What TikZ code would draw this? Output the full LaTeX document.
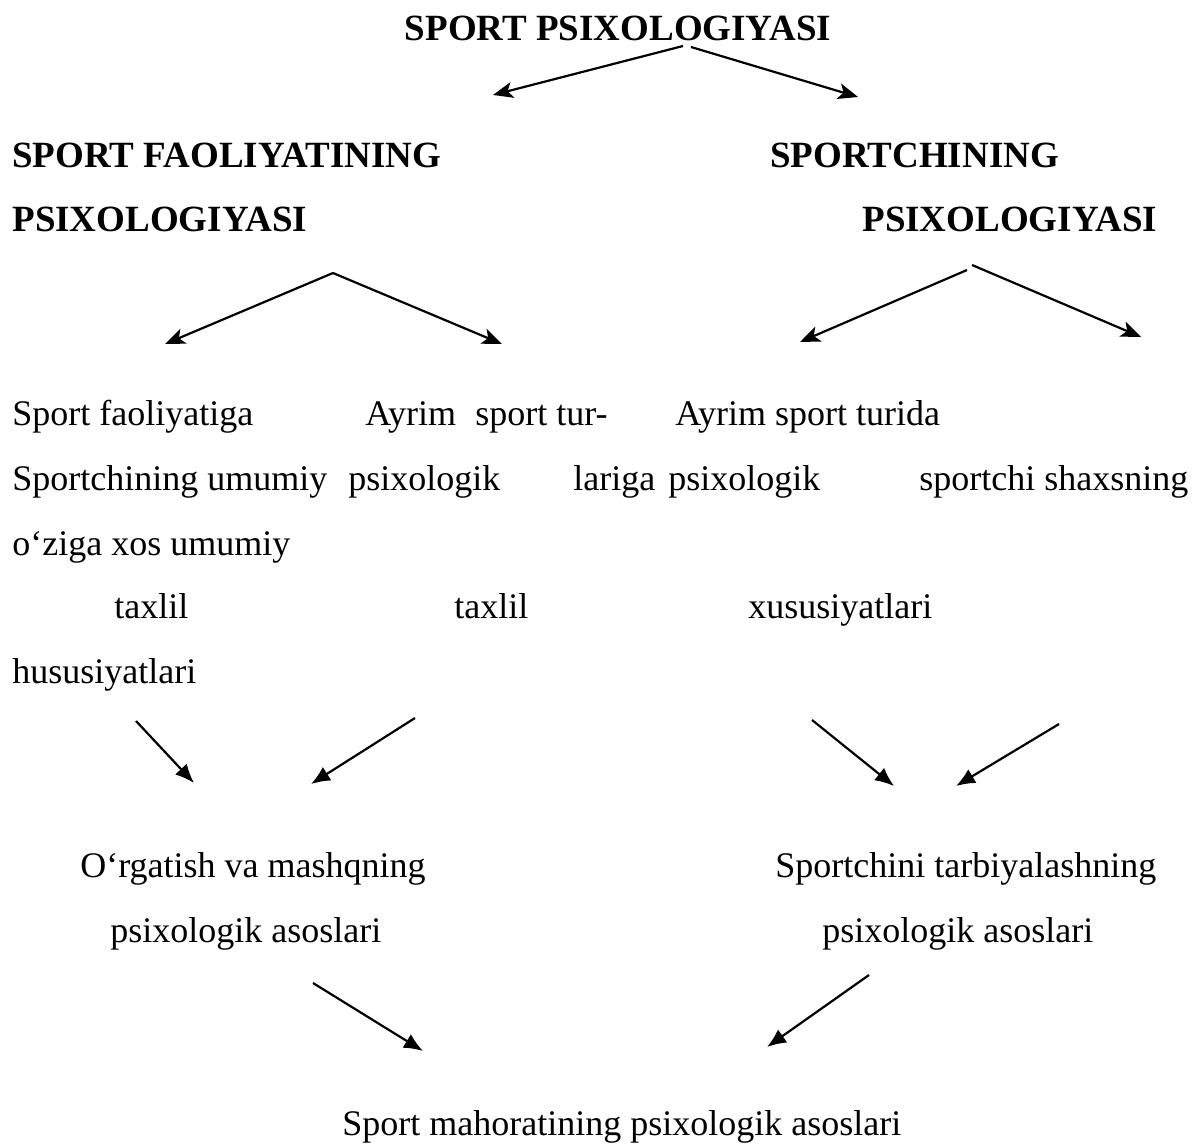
\documentclass[tikz,border=0pt]{standalone}
\usepackage{fontspec}
\setmainfont{Liberation Serif}
\usetikzlibrary{arrows.meta, positioning}

\begin{document}
\begin{tikzpicture}[x=0.5pt, y=-0.5pt,
  txt/.style={anchor=base west, inner sep=0pt, font=\fontsize{18}{20}\selectfont},
  hd/.style={txt, font=\fontsize{18.5}{20}\selectfont\bfseries},
  arr/.style={line width=1.1pt, -{Stealth[length=10pt, width=8pt, inset=2.5pt]}},
  arrb/.style={line width=1.1pt, -{Latex[length=9.5pt, width=8pt]}}]

\useasboundingbox (0,0) rectangle (1203,1144);

% headings
\node[hd, anchor=base] (top) at (618,41) {SPORT PSIXOLOGIYASI};
\node[hd] (fa1) at (12,168) {SPORT FAOLIYATINING};
\node[hd] (fa2) at (12,232) {PSIXOLOGIYASI};
\node[hd] (sp1) at (770,168) {SPORTCHINING};
\node[hd] (sp2) at (862,232) {PSIXOLOGIYASI};

% first level of text
\node[txt] (a1) at (12,425) {Sport faoliyatiga};
\node[txt] (a2) at (12,490) {Sportchining umumiy};
\node[txt] (a3) at (12,555) {o‘ziga xos umumiy};
\node[txt] (a4) at (114,618) {taxlil};
\node[txt] (a5) at (12,683) {hususiyatlari};

\node[txt] (b1) at (365,425) {Ayrim};
\node[txt] (b1x) at (475,425) {sport tur-};
\node[txt] (b2) at (348,490) {psixologik};
\node[txt] (b2x) at (573,490) {lariga};
\node[txt] (b4) at (454,618) {taxlil};

\node[txt] (c1) at (675,425) {Ayrim sport turida};
\node[txt] (c2) at (668,490) {psixologik};
\node[txt] (c4) at (748,618) {xususiyatlari};
\node[txt] (d2) at (919,490) {sportchi shaxsning};

% second level
\node[txt] (o1) at (80,877) {O‘rgatish va mashqning};
\node[txt] (o2) at (110,942) {psixologik asoslari};
\node[txt] (t1) at (775,877) {Sportchini tarbiyalashning};
\node[txt] (t2) at (822,942) {psixologik asoslari};

\node[txt] (m) at (342,1135) {Sport mahoratining psixologik asoslari};

% arrow ends
\coordinate (s0l) at (683,46);
\coordinate (s0r) at (691,47);
\coordinate (e0l) at (493,95);
\coordinate (e0r) at (858,97);

\coordinate (s1) at (333,273);
\coordinate (e1l) at (165,344);
\coordinate (e1r) at (502,344);

\coordinate (s2l) at (967,270);
\coordinate (s2r) at (972,265);
\coordinate (e2l) at (800,342);
\coordinate (e2r) at (1141,337);

\coordinate (s3a) at (136,721);
\coordinate (e3a) at (194,783);
\coordinate (s3b) at (415,718);
\coordinate (e3b) at (311,784);
\coordinate (s3c) at (812,720);
\coordinate (e3c) at (894,786);
\coordinate (s3d) at (1059,724);
\coordinate (e3d) at (956,786);

\coordinate (s4l) at (313,983);
\coordinate (e4l) at (423,1051);
\coordinate (s4r) at (869,975);
\coordinate (e4r) at (767,1047);

\draw[arr] (s0l) -- (e0l);
\draw[arr] (s0r) -- (e0r);
\draw[arr] (s1) -- (e1l);
\draw[arr] (s1) -- (e1r);
\draw[arr] (s2l) -- (e2l);
\draw[arr] (s2r) -- (e2r);

\foreach \i in {a,b,c,d}
    \draw[arrb] (s3\i) -- (e3\i);

\draw[arrb] (s4l) -- (e4l);
\draw[arrb] (s4r) -- (e4r);
\end{tikzpicture}
\end{document}
